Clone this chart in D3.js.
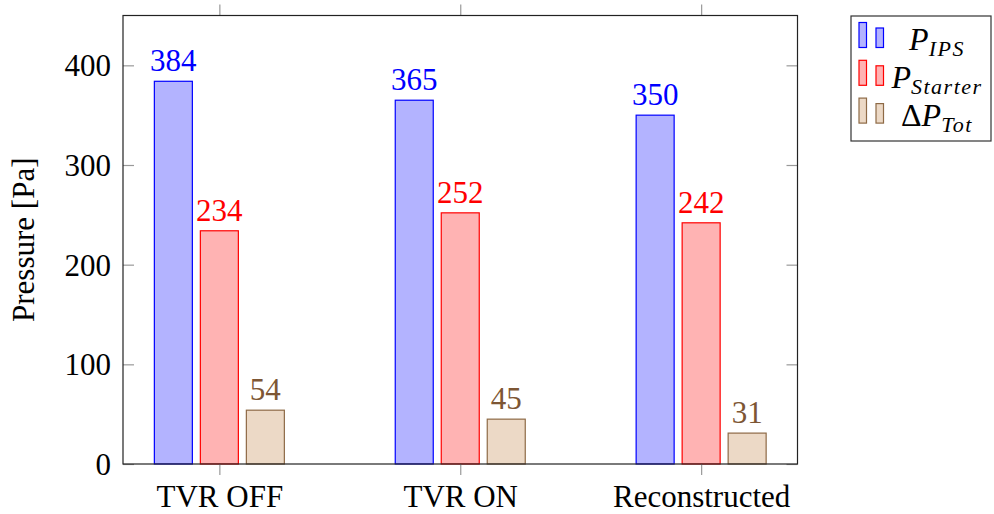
<!DOCTYPE html>
<html>
<head>
<meta charset="utf-8">
<script src="https://cdn.jsdelivr.net/npm/d3@7"></script>
<style>
  body { margin: 0; background: #fff; }
</style>
</head>
<body>
<div id="chart"></div>
<script>
var width = 994, height = 514;
var serif = "Liberation Serif";

// data
var categories = ["TVR OFF", "TVR ON", "Reconstructed"];
var pIps = [384, 365, 350];
var pStarter = [234, 252, 242];
var dpTot = [54, 45, 31];
var yTicks = [0, 100, 200, 300, 400];

var series = [
  {name: "IPS", prefix: "", values: pIps, fill: "#b3b3ff", stroke: "#0000ff", text: "#0000ff"},
  {name: "Starter", prefix: "", values: pStarter, fill: "#ffb3b3", stroke: "#ff0000", text: "#ff0000"},
  {name: "Tot", prefix: "\u0394", values: dpTot, fill: "#ecd9c6", stroke: "#8e6a46", text: "#7d5634"}
];

// plot frame (don't use "top", it clashes with window.top)
var plotL = 123, plotR = 797.5, plotT = 15.5, plotB = 464;
var barW = 38, barGap = 46;

var svg = d3.select("#chart")
  .append("svg")
  .attr("width", width)
  .attr("height", height)
  .attr("font-family", serif);

var x = d3.scalePoint()
  .domain(categories)
  .range([plotL, plotR])
  .padding(0.4);

var y = d3.scaleLinear()
  .domain([0, 450])
  .range([plotB, plotT]);

// bars
series.forEach(function(s, i) {
  var off = (i - 1) * barGap;
  var g = svg.append("g");
  g.selectAll("rect")
    .data(s.values)
    .enter()
    .append("rect")
    .attr("x", function(d, j) { return x(categories[j]) + off - barW / 2; })
    .attr("y", function(d) { return y(d); })
    .attr("width", barW)
    .attr("height", function(d) { return y(0) - y(d); })
    .style("fill", s.fill)
    .style("stroke", s.stroke)
    .style("stroke-width", 1.2);

  g.selectAll("text")
    .data(s.values)
    .enter()
    .append("text")
    .attr("x", function(d, j) { return x(categories[j]) + off; })
    .attr("y", function(d) { return y(d) - 10; })
    .attr("text-anchor", "middle")
    .attr("font-family", serif)
    .attr("font-size", 31)
    .style("fill", s.text)
    .text(function(d) { return d; });
});

// axes
var yAxis = d3.axisLeft(y).tickValues(yTicks).tickSize(-11).tickPadding(12);
var gy = svg.append("g").attr("transform", "translate(" + plotL + ",0)").call(yAxis);

var yAxisR = d3.axisRight(y).tickValues(yTicks).tickSize(-11).tickFormat("");
var gyr = svg.append("g").attr("transform", "translate(" + plotR + ",0)").call(yAxisR);

var xAxis = d3.axisBottom(x).tickSize(11).tickPadding(10);
var gx = svg.append("g").attr("transform", "translate(0," + plotB + ")").call(xAxis);

var xAxisT = d3.axisTop(x).tickSize(11).tickFormat("");
var gxt = svg.append("g").attr("transform", "translate(0," + plotT + ")").call(xAxisT);

[gy, gyr, gx, gxt].forEach(function(g) {
  g.attr("font-family", serif).attr("font-size", 31);
  g.select(".domain").remove();
  g.selectAll(".tick line").style("stroke", "#999").style("stroke-width", 1.2);
  g.selectAll(".tick text")
    .attr("font-family", serif)
    .attr("font-size", 31)
    .style("fill", "#000");
});
gy.selectAll(".tick text").attr("dy", "0.34em");
gx.selectAll(".tick text").attr("dy", "0.7em");

svg.append("rect")
  .attr("x", plotL)
  .attr("y", plotT)
  .attr("width", plotR - plotL)
  .attr("height", plotB - plotT)
  .style("fill", "none")
  .style("stroke", "#222")
  .style("stroke-width", 1.2);

// y label
svg.append("text")
  .attr("transform", "translate(34," + ((plotT + plotB) / 2) + ") rotate(-90)")
  .attr("text-anchor", "middle")
  .attr("font-family", serif)
  .attr("font-size", 31)
  .text("Pressure [Pa]");

// legend
var lg = svg.append("g");
lg.append("rect")
  .attr("x", 851)
  .attr("y", 16)
  .attr("width", 140)
  .attr("height", 125)
  .style("fill", "#fff")
  .style("stroke", "#333")
  .style("stroke-width", 1.2);

series.forEach(function(s, i) {
  var rowY = 47.5 + i * 37.8;
  lg.append("rect")
    .attr("x", 859).attr("y", rowY - 25)
    .attr("width", 7.5).attr("height", 25)
    .style("fill", s.fill).style("stroke", s.stroke).style("stroke-width", 1.2);
  lg.append("rect")
    .attr("x", 876).attr("y", rowY - 19.5)
    .attr("width", 7.5).attr("height", 19.5)
    .style("fill", s.fill).style("stroke", s.stroke).style("stroke-width", 1.2);

  var t = lg.append("text")
    .attr("x", 937)
    .attr("y", rowY + 2.5)
    .attr("text-anchor", "middle")
    .attr("font-family", serif)
    .attr("font-size", 32);
  if (s.prefix) t.append("tspan").text(s.prefix);
  t.append("tspan").style("font-style", "italic").text("P");
  t.append("tspan")
    .style("font-style", "italic")
    .attr("font-size", 22)
    .attr("dy", 6)
    .attr("letter-spacing", "1.5px")
    .text(s.name);
});
</script>
</body>
</html>
